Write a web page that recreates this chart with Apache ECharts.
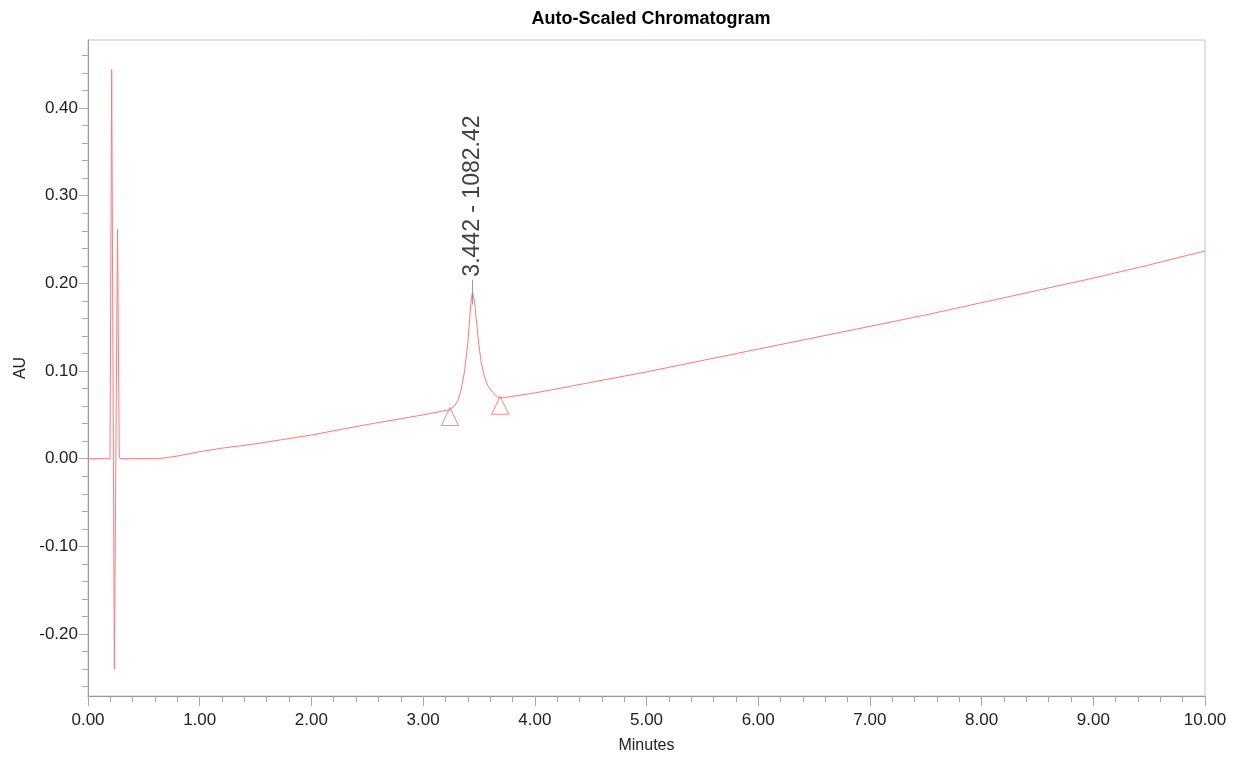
<!DOCTYPE html>
<html>
<head>
<meta charset="utf-8">
<script src="https://cdn.jsdelivr.net/npm/echarts@6/dist/echarts.min.js"></script>
<style>
html,body{margin:0;padding:0;background:#fff;}
#chart{width:1239px;height:757px;}
</style>
</head>
<body>
<div id="chart"></div>
<script>
// ---- data ----
const minutes = [0.00, 0.197, 0.212, 0.236, 0.264, 0.280, 0.290, 0.40, 0.63, 0.80, 1.00, 1.20, 1.50, 2.00, 2.50, 3.00,
  3.24, 3.28, 3.31, 3.34, 3.37, 3.40, 3.42, 3.43, 3.442, 3.45, 3.46, 3.48, 3.50, 3.52, 3.55, 3.58, 3.62, 3.66, 3.69,
  4.00, 4.50, 5.00, 5.50, 6.00, 6.50, 7.00, 7.50, 8.00, 8.50, 9.00, 9.50, 10.00];
const au = [0.000, 0.000, 0.444, -0.240, 0.262, 0.003, 0.000, 0.000, 0.000, 0.003, 0.008, 0.012, 0.017, 0.027, 0.039, 0.050,
  0.056, 0.060, 0.066, 0.078, 0.099, 0.131, 0.165, 0.180, 0.190, 0.188, 0.180, 0.154, 0.129, 0.110, 0.093, 0.083, 0.076, 0.071, 0.069,
  0.075, 0.087, 0.099, 0.112, 0.125, 0.138, 0.151, 0.164, 0.178, 0.192, 0.206, 0.221, 0.237];

const peakMarkTimes = [3.24, 3.69];
const peakMarkValues = [0.056, 0.069];

const peakTime = 3.442;
const peakValue = 0.190;
const peakLabel = '3.442 - 1082.42';

const yMajorTicks = [-0.20, -0.10, 0.00, 0.10, 0.20, 0.30, 0.40];
const yMinorTicks = [-0.26, -0.24, -0.22, -0.18, -0.16, -0.14, -0.12, -0.08, -0.06, -0.04, -0.02,
  0.02, 0.04, 0.06, 0.08, 0.12, 0.14, 0.16, 0.18, 0.22, 0.24, 0.26, 0.28, 0.32, 0.34, 0.36, 0.38, 0.42, 0.44, 0.46];
const yMin = -0.2707, yMax = 0.4776;
const xMin = 0, xMax = 10, xStep = 1;

// ---- chart ----
const lineColor = '#ff7a7a';
const chart = echarts.init(document.getElementById('chart'), null, {renderer: 'canvas'});
const font = 'Arial, "Liberation Sans", sans-serif';

const option = {
  animation: false,
  backgroundColor: '#ffffff',
  title: {
    text: 'Auto-Scaled Chromatogram',
    left: 646, top: 5, textAlign: 'center',
    textStyle: {fontFamily: font, fontSize: 18, fontWeight: 'bold', color: '#000'}
  },
  grid: {left: 88, right: 34, top: 40, bottom: 61, show: true, borderColor: '#c4c4c4', borderWidth: 1,
    backgroundColor: 'transparent', containLabel: false, outerBoundsMode: 'none'},
  xAxis: {
    type: 'value', min: xMin, max: xMax, interval: xStep,
    name: 'Minutes', nameLocation: 'middle', nameGap: 42,
    nameTextStyle: {fontFamily: font, fontSize: 16, color: '#222'},
    axisLine: {show: true, onZero: false, lineStyle: {color: '#9a9a9a', width: 1}},
    axisTick: {show: true, inside: false, length: 10, lineStyle: {color: '#a8a8a8'}},
    minorTick: {show: true, splitNumber: 5, length: 6, lineStyle: {color: '#a8a8a8'}},
    splitLine: {show: false},
    axisLabel: {fontFamily: font, fontSize: 17, color: '#222', margin: 16, formatter: v => v.toFixed(2)}
  },
  yAxis: [{
    type: 'value', min: yMin, max: yMax,
    name: 'AU', nameLocation: 'middle', nameGap: 58,
    nameTextStyle: {fontFamily: font, fontSize: 16, color: '#222'},
    axisLine: {show: true, onZero: false, lineStyle: {color: '#9a9a9a', width: 1}},
    axisTick: {show: true, inside: false, length: 9, customValues: yMajorTicks, lineStyle: {color: '#a8a8a8'}},
    splitLine: {show: false},
    axisLabel: {fontFamily: font, fontSize: 17, color: '#222', margin: 10, customValues: yMajorTicks, formatter: v => v.toFixed(2)}
  }, {
    type: 'value', min: yMin, max: yMax, position: 'left',
    axisLine: {show: false, onZero: false},
    axisTick: {show: true, inside: false, length: 6, customValues: yMinorTicks, lineStyle: {color: '#a8a8a8'}},
    axisLabel: {show: false},
    splitLine: {show: false}
  }],
  series: [{
    type: 'line', name: 'signal', xAxisIndex: 0, yAxisIndex: 0,
    data: minutes.map((t, i) => [t, au[i]]),
    showSymbol: false, symbol: 'none', smooth: false,
    lineStyle: {color: lineColor, width: 1},
    z: 3
  }, {
    type: 'scatter', name: 'marks', yAxisIndex: 0,
    data: peakMarkTimes.map((t, i) => [t, peakMarkValues[i]]),
    symbol: 'triangle', symbolSize: [17, 18], symbolOffset: [0, 7],
    itemStyle: {color: 'rgba(255,255,255,0)', borderColor: '#ff6f6f', borderWidth: 1},
    z: 4
  }, {
    type: 'scatter', name: 'apex', yAxisIndex: 0,
    data: [[peakTime, peakValue]],
    symbol: 'rect', symbolSize: [1, 25],
    itemStyle: {color: '#808080'},
    label: {
      show: true, formatter: peakLabel, position: 'top', distance: 3,
      rotate: 90, align: 'left', verticalAlign: 'middle',
      fontFamily: font, fontSize: 23, color: '#111'
    },
    z: 5
  }]
};
chart.setOption(option);
</script>
</body>
</html>
